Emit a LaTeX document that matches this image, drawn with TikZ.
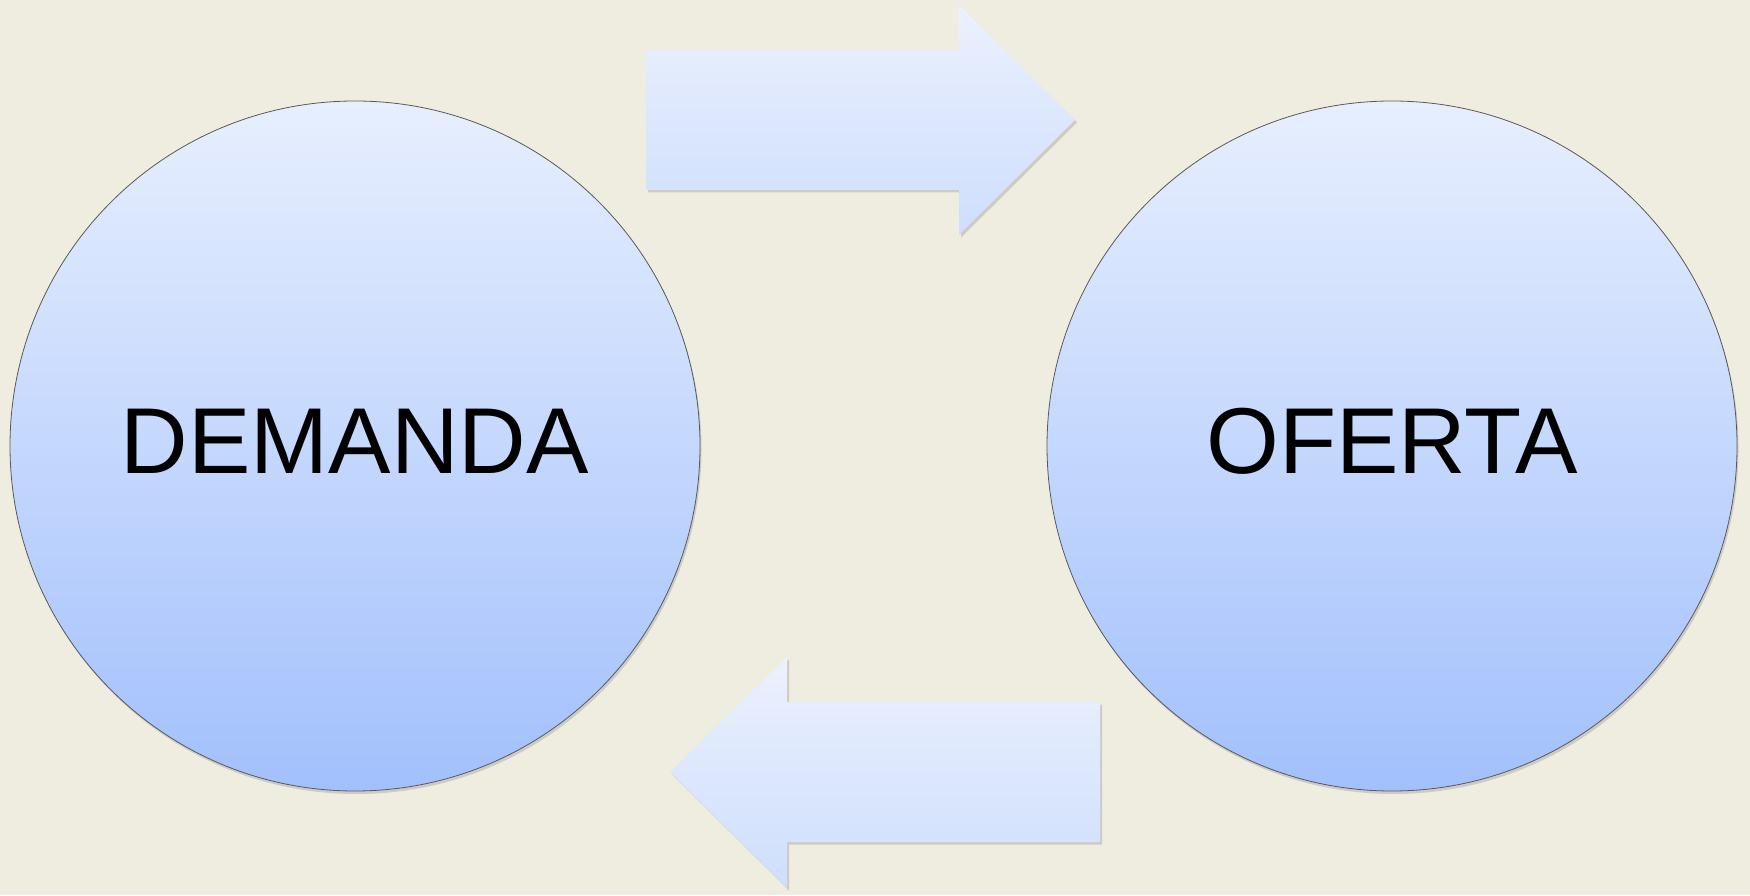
\documentclass[tikz,border=0pt]{standalone}
\usepackage{fontspec}
\setmainfont{Liberation Sans}
\usepackage{tikz}
\usetikzlibrary{positioning,shadows}

\definecolor{paper}{RGB}{239,236,224}
\definecolor{bubbleTop}{RGB}{231,239,254}
\definecolor{bubbleBottom}{RGB}{162,192,252}
\definecolor{arrowTop}{RGB}{235,241,254}
\definecolor{arrowBottom}{RGB}{206,222,252}

\begin{document}
\begin{tikzpicture}[%
    x=1pt,
    y=1pt,
    bubble/.style={%
        draw=black!65,
        line width=0.8pt,
        circle,
        inner sep=0pt,
        minimum size=690pt,
        text height=67pt,
        text depth=11pt,
        top color=bubbleTop,
        bottom color=bubbleBottom,
        font=\fontsize{93.6}{112}\selectfont,
        drop shadow={shadow xshift=1.5pt, shadow yshift=-3pt, opacity=0.3}
    },
    blockArrow/.style={%
        top color=arrowTop,
        bottom color=arrowBottom,
        drop shadow={shadow xshift=2pt, shadow yshift=-2.5pt, opacity=0.3}
    }
]

% Background
    \fill[paper] (0,0) rectangle (1750,895);
    \useasboundingbox (0,0) rectangle (1750,895);

% Circles
    \node[bubble] (demanda) at (355,449) {DEMANDA};
    \node[bubble] (oferta) at (1392,449) {OFERTA};

% Arrow towards OFERTA
    \path[blockArrow] (646,705) -- (646,845) -- (959,845) -- (959,890)
        -- (1075,775) -- (959,660) -- (959,705) -- cycle;

% Arrow towards DEMANDA
    \path[blockArrow] (1100,53) -- (1100,193) -- (787,193) -- (787,238)
        -- (670,123) -- (787,7) -- (787,53) -- cycle;

\end{tikzpicture}
\end{document}
